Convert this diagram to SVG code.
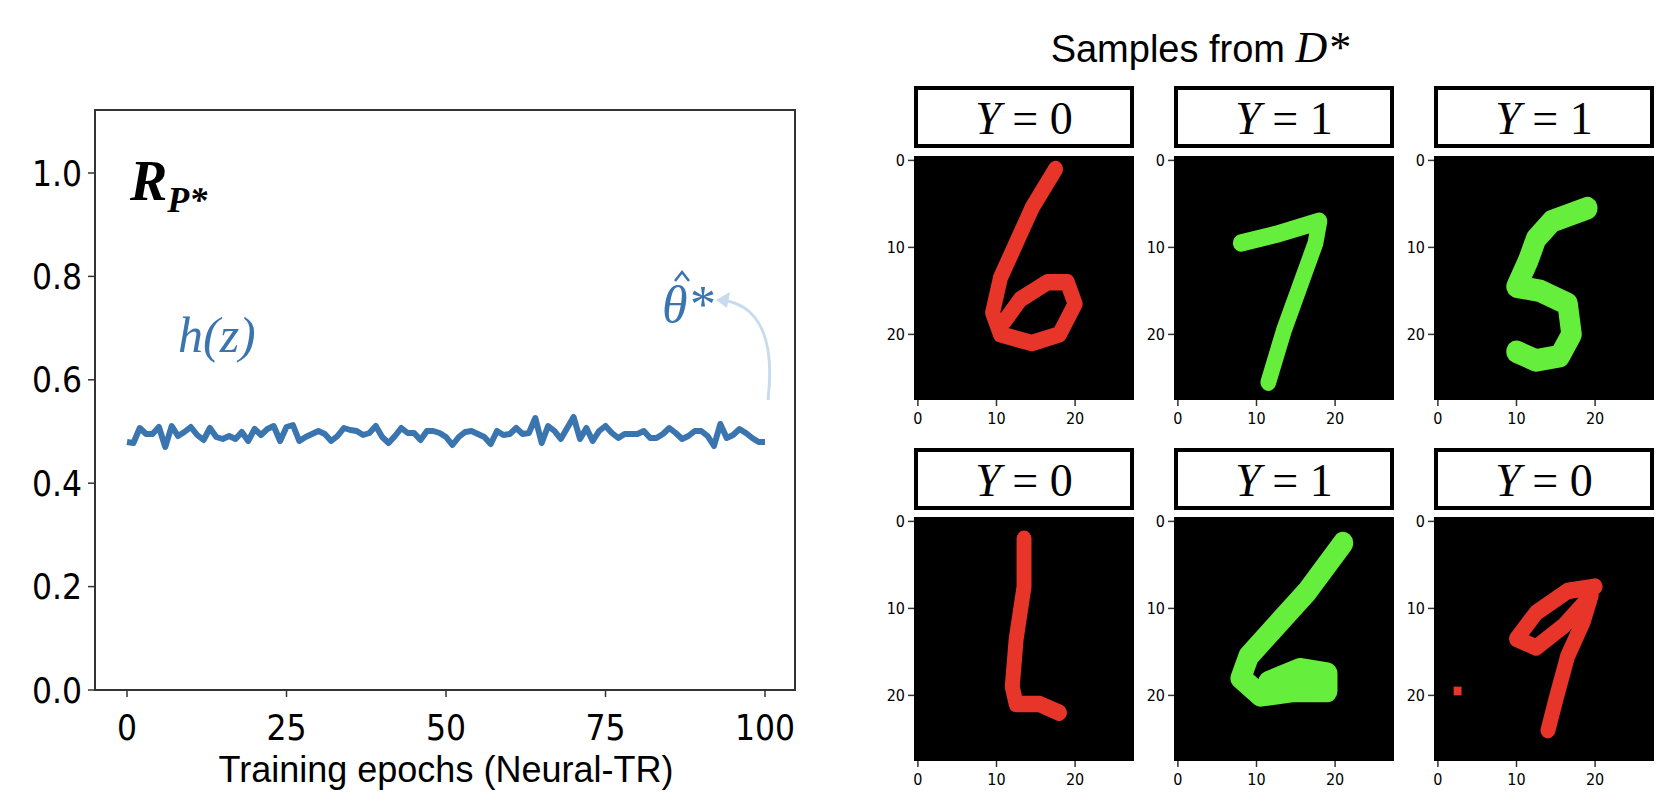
<svg xmlns="http://www.w3.org/2000/svg" width="1660" height="806" viewBox="0 0 1660 806">
<style>
.tk{font-family:"DejaVu Sans Condensed","DejaVu Sans",sans-serif;font-size:35px;fill:#000}
.sm{font-family:"DejaVu Sans Condensed","DejaVu Sans",sans-serif;font-size:16px;fill:#000}
.m{font-family:"Liberation Serif",serif;font-style:italic}
.lbl{font-family:"Liberation Serif",serif;font-size:46px;fill:#000}
.box{fill:#fff;stroke:#000;stroke-width:4}
.r{fill:none;stroke:#e8352a;stroke-width:1.9;stroke-linejoin:round;stroke-linecap:round}
.g{fill:none;stroke:#66ee3c;stroke-width:2;stroke-linejoin:round;stroke-linecap:round}
.ax{stroke:#333;stroke-width:1.5}
</style>
<rect width="1660" height="806" fill="#fff"/>
<g id="plot">
<rect x="95" y="110" width="700" height="580" fill="none" stroke="#333" stroke-width="2"/>
<g class="ax">
<line x1="88" y1="690" x2="95" y2="690"/><line x1="88" y1="586.6" x2="95" y2="586.6"/><line x1="88" y1="483.2" x2="95" y2="483.2"/><line x1="88" y1="379.8" x2="95" y2="379.8"/><line x1="88" y1="276.4" x2="95" y2="276.4"/><line x1="88" y1="173" x2="95" y2="173"/>
<line x1="127" y1="690" x2="127" y2="697"/><line x1="286.5" y1="690" x2="286.5" y2="697"/><line x1="446" y1="690" x2="446" y2="697"/><line x1="605.5" y1="690" x2="605.5" y2="697"/><line x1="765" y1="690" x2="765" y2="697"/>
</g>
<g class="tk" text-anchor="end">
<text x="82" y="703">0.0</text><text x="82" y="599">0.2</text><text x="82" y="496">0.4</text><text x="82" y="392">0.6</text><text x="82" y="289">0.8</text><text x="82" y="186">1.0</text>
</g>
<g class="tk" text-anchor="middle">
<text x="127" y="740">0</text><text x="286.5" y="740">25</text><text x="446" y="740">50</text><text x="605.5" y="740">75</text><text x="765" y="740">100</text>
</g>
<text x="446" y="782" text-anchor="middle" style="font-family:'Liberation Sans',sans-serif;font-size:36px">Training epochs (Neural-TR)</text>
<text x="130" y="200" class="m" font-size="56" font-weight="bold">R<tspan font-size="36" dy="12">P*</tspan></text>
<text x="178" y="352" class="m" font-size="50" fill="#3a75b0">h(z)</text>
<text x="662" y="322" class="m" font-size="52" fill="#3a75b0">θ*</text>
<polyline points="675,281 682,272 689,281" fill="none" stroke="#3a75b0" stroke-width="2.5"/>
<path d="M768 400 C775 340 760 305 722 300" fill="none" stroke="#c8dbee" stroke-width="3"/>
<path d="M716 300 L730 292 L727 308 Z" fill="#c8dbee"/>
<polyline fill="none" stroke="#3a75b0" stroke-width="6" stroke-linejoin="round" points="127,442 133.4,443 139.8,428 146.1,434 152.5,434 158.9,427 165.3,447 171.7,426 178,436 184.4,432 190.8,427 197.2,435 203.6,440 209.9,428 216.3,437 222.7,439 229.1,436 235.5,439 241.8,432 248.2,441 254.6,429 261,435 267.4,429 273.7,426 280.1,441 286.5,427 292.9,425 299.3,441 305.6,437 312,434 318.4,431 324.8,434 331.2,441 337.5,436 343.9,428 350.3,430 356.7,431 363.1,435 369.4,433 375.8,426 382.2,437 388.6,443 395,436 401.3,428 407.7,433 414.1,433 420.5,440 426.9,431 433.2,431 439.6,433 446,437 452.4,445 458.8,437 465.1,432 471.5,431 477.9,434 484.3,437 490.7,444 497,431 503.4,435 509.8,434 516.2,428 522.6,434 528.9,433 535.3,418 541.7,443 548.1,426 554.5,431 560.8,439 567.2,428 573.6,417 580,439 586.4,428 592.7,441 599.1,431 605.5,426 611.9,433 618.3,438 624.6,434 631,434 637.4,434 643.8,431 650.2,438 656.5,438 662.9,434 669.3,428 675.7,433 682.1,439 688.4,436 694.8,431 701.2,431 707.6,436 714,446 720.3,424 726.7,438 733.1,435 739.5,429 745.9,433 752.2,438 758.6,442 765,442"/>
</g>
<text x="1200" y="62" text-anchor="middle" style="font-family:'Liberation Sans',sans-serif;font-size:38px">Samples from <tspan class="m" font-size="44">D*</tspan></text>
<defs>
<g id="ticks">
<rect x="0" y="0" width="220" height="244" fill="#000"/>
<g class="ax" stroke="#333">
<line x1="-6" y1="4.4" x2="0" y2="4.4"/><line x1="-6" y1="91.4" x2="0" y2="91.4"/><line x1="-6" y1="178.4" x2="0" y2="178.4"/>
<line x1="3.9" y1="244" x2="3.9" y2="250"/><line x1="82.5" y1="244" x2="82.5" y2="250"/><line x1="161.1" y1="244" x2="161.1" y2="250"/>
</g>
<g class="sm" text-anchor="end"><text x="-9" y="10">0</text><text x="-9" y="97">10</text><text x="-9" y="184">20</text></g>
<g class="sm" text-anchor="middle"><text x="3.9" y="268">0</text><text x="82.5" y="268">10</text><text x="161.1" y="268">20</text></g>
</g>
</defs>
<g id="s1">
<rect class="box" x="916" y="88" width="216" height="58"/>
<text class="lbl" x="1024" y="134" text-anchor="middle"><tspan class="m">Y</tspan> = 0</text>
<use href="#ticks" x="914" y="156"/>
<g transform="translate(914,156) scale(7.86,8.7)"><polyline class="r" points="18,1.5 15,6 13,10 11,14 10,18 11,20.5 15,21.5 18.5,20.5 20.5,17 19.5,14.5 17,14.5 13.5,16.5 11.5,19"/></g>
</g>
<g id="s2">
<rect class="box" x="1176" y="88" width="216" height="58"/>
<text class="lbl" x="1284" y="134" text-anchor="middle"><tspan class="m">Y</tspan> = 1</text>
<use href="#ticks" x="1174" y="156"/>
<g transform="translate(1174,156) scale(7.86,8.7)"><polyline class="g" points="8.5,10 13,9 18.5,7.5 18,10 16,15 14,20 12,26"/></g>
</g>
<g id="s3">
<rect class="box" x="1436" y="88" width="216" height="58"/>
<text class="lbl" x="1544" y="134" text-anchor="middle"><tspan class="m">Y</tspan> = 1</text>
<use href="#ticks" x="1434" y="156"/>
<g transform="translate(1434,156) scale(7.86,8.7)"><polyline class="g" style="stroke-width:2.6" points="19.5,6 15,7.5 13,9.5 12,12 10.5,15 13.5,15.5 17,17 17.5,20.5 16,23 13,23.5 10.5,22.5"/></g>
</g>
<g id="s4">
<rect class="box" x="916" y="450" width="216" height="58"/>
<text class="lbl" x="1024" y="496" text-anchor="middle"><tspan class="m">Y</tspan> = 0</text>
<use href="#ticks" x="914" y="517"/>
<g transform="translate(914,517) scale(7.86,8.7)"><polyline class="r" points="14,2.5 14,8 13,14 12.5,19.5 13,21.5 16,21.5 18.5,22.5"/></g>
</g>
<g id="s5">
<rect class="box" x="1176" y="450" width="216" height="58"/>
<text class="lbl" x="1284" y="496" text-anchor="middle"><tspan class="m">Y</tspan> = 1</text>
<use href="#ticks" x="1174" y="517"/>
<g transform="translate(1174,517) scale(7.86,8.7)"><polyline class="g" style="stroke-width:2.6" points="21.5,3 17,8.5 13,12.5 9.5,16 8.5,18.5 11,20.5 15,20 19.5,20 19.5,18 16,17.5 12,19"/></g>
</g>
<g id="s6">
<rect class="box" x="1436" y="450" width="216" height="58"/>
<text class="lbl" x="1544" y="496" text-anchor="middle"><tspan class="m">Y</tspan> = 0</text>
<use href="#ticks" x="1434" y="517"/>
<g transform="translate(1434,517) scale(7.86,8.7)"><polyline class="r" points="20.5,8 17,8.5 13,11 10.5,14 13,15 16.5,12.5 20,9 19,12 17,16 15.5,21 14.5,24.5"/><rect x="2.5" y="19.5" width="1" height="1" fill="#e8352a"/></g>
</g>
</svg>
